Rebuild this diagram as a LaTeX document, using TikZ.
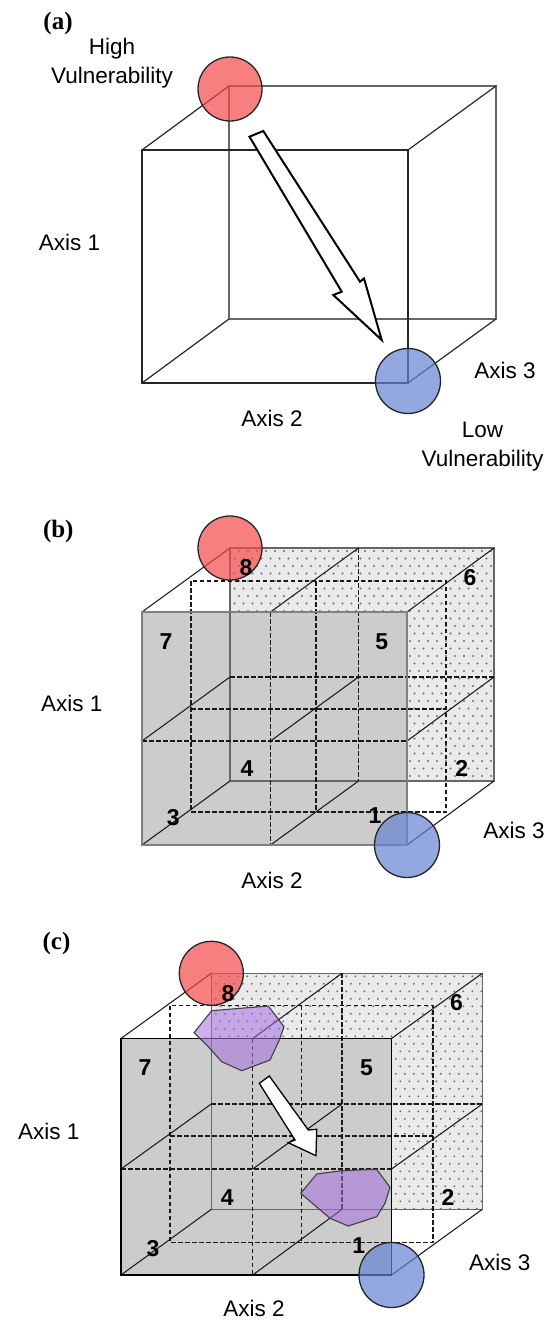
\documentclass[tikz,border=0pt]{standalone}
\usepackage{fontspec}
\setmainfont{Liberation Sans}
\newfontfamily\panelfont{Liberation Serif}
\usetikzlibrary{calc}
\definecolor{redc}{RGB}{245,74,74}
\definecolor{bluec}{RGB}{102,131,211}
\definecolor{purc}{RGB}{165,110,225}
\definecolor{facegray}{RGB}{204,204,204}
\definecolor{dotbg}{RGB}{234,234,234}
\definecolor{dotc}{RGB}{110,110,110}
\newcommand\defplane[8]{%
  \foreach \n/\x in {L/#3,M/#4,R/#5}{%
    \foreach \m/\y in {T/#6,H/#7,B/#8}{%
      \coordinate (#1#2\n\m) at (\x,\y);}}}
\newcommand\drawgridcube[2]{%
  \fill[dotbg] (#1BLT) rectangle (#1BRB);
  \begin{scope}
    \clip (#1BLT) rectangle (#1BRB);
    \foreach \j in {0,...,32}{\foreach \i in {0,...,30}{%
      \pgfmathsetmacro\dx{\i*9+mod(\j,2)*4.5}%
      \fill[dotc] ($(#1BLT)+(\dx,\j*7.5+3)$) circle (1.05);}}
  \end{scope}
  \fill[facegray] (#1FLT) rectangle (#1FRB);
  \draw[backedge] (#1BLT) -- (#1BRT) -- (#1BRB) -- (#1BLB) -- cycle;
  \foreach \P in {F,B,M}{%
    \draw[gridline] (#1\P MT) -- (#1\P MB);
    \draw[gridline] (#1\P LH) -- (#1\P RH);}
  \draw[gridline] (#1MLT) rectangle (#1MRB);
  \foreach \c in {L,M,R}{\foreach \r in {T,H,B}{%
    \draw[depth] (#1F\c\r) -- (#1B\c\r);}}
  \draw[#2] (#1FLT) rectangle (#1FRB);
}
\begin{document}
\begin{tikzpicture}[x=1pt,y=-1pt,
  frontedge/.style={draw=black!85, line width=1.2pt},
  backedge/.style={draw=black!60, line width=1.1pt},
  gridline/.style={draw=black!90, dash pattern=on 4.5pt off 2.5pt, line width=1.1pt},
  depth/.style={draw=black!90, line width=1.05pt},
  frontb/.style={draw=black!50, line width=1.1pt},
  frontc/.style={draw=black, line width=1.6pt},
  hicirc/.style={circle, draw=black!85, line width=1.3pt, fill=redc, fill opacity=0.7, minimum size=64pt, inner sep=0pt},
  locirc/.style={circle, draw=black!85, line width=1.3pt, fill=bluec, fill opacity=0.7, minimum size=65pt, inner sep=0pt},
  blockarrow/.style={draw=black, fill=white, line width=2pt, line join=miter},
  smallarrow/.style={draw=black, fill=white, line width=1.3pt, line join=miter},
  blob/.style={draw=black!75, line width=1.1pt, fill=purc, fill opacity=0.55},
  axislbl/.style={font=\fontsize{22.5}{29}\selectfont, inner sep=0pt, align=center},
  numlbl/.style={font=\fontsize{23}{26}\selectfont\bfseries, inner sep=0pt},
  panellbl/.style={font=\panelfont\fontsize{25}{28}\selectfont\bfseries, inner sep=0pt}]
\useasboundingbox (0,0) rectangle (552,1321);
\fill[white] (0,0) rectangle (552,1321);

% ---------------- panel (a)
\coordinate (aFLT) at (142,150); \coordinate (aFRT) at (408,150);
\coordinate (aFLB) at (142,383); \coordinate (aFRB) at (408,383);
\coordinate (aBLT) at (229,86);  \coordinate (aBRT) at (496,86);
\coordinate (aBLB) at (229,319); \coordinate (aBRB) at (496,319);
\draw[backedge] (aBLT) -- (aBRT) -- (aBRB) -- (aBLB) -- cycle;
\draw[frontedge] (aFLT) -- (aBLT) (aFRT) -- (aBRT) (aFLB) -- (aBLB) (aFRB) -- (aBRB);
\draw[frontedge] (aFLT) rectangle (aFRB);
\draw[blockarrow] (249.5,136.7) -- (263.3,131) -- (360,281.7) -- (364,278.5)
   -- (381.7,340) -- (333.3,295) -- (341.7,291.7) -- cycle;
\node[hicirc] (hiA) at (230,89) {};
\node[locirc] (loA) at (408,381) {};
\node[panellbl] (pa) at (58,23) {(a)};
\node[axislbl] (hva) at (112,63.5) {High\\Vulnerability};
\node[axislbl] (ax1a) at (69.4,242.7) {Axis 1};
\node[axislbl] (ax3a) at (505,370.7) {Axis 3};
\node[axislbl] (ax2a) at (272,418) {Axis 2};
\node[axislbl] (lva) at (482.5,447) {Low\\Vulnerability};

% ---------------- panel (b)
\defplane{b}{F}{142}{270.5}{407}{612}{741}{845}
\defplane{b}{B}{230}{358.5}{494}{548}{677}{781}
\defplane{b}{M}{191}{316}{446}{581}{709}{812}
\drawgridcube{b}{frontb}
\node[hicirc] (hiB) at (bBLT) {};
\node[locirc] (loB) at (bFRB) {};
\node[panellbl] (pb) at (58.3,531.7) {(b)};
\node[numlbl] (b8) at (246,568) {8};
\node[numlbl] (b7) at (166,642) {7};
\node[numlbl] (b6) at (470,578) {6};
\node[numlbl] (b5) at (381.7,641.7) {5};
\node[numlbl] (b4) at (247,768.3) {4};
\node[numlbl] (b2) at (461.7,768.3) {2};
\node[numlbl] (b3) at (173.3,817.7) {3};
\node[numlbl] (b1) at (375,816) {1};
\node[axislbl] (ax1b) at (71.7,703.3) {Axis 1};
\node[axislbl] (ax3b) at (514,830) {Axis 3};
\node[axislbl] (ax2b) at (272,880) {Axis 2};

% ---------------- panel (c)
\defplane{c}{F}{121}{252.7}{391.5}{1038.5}{1169}{1275}
\defplane{c}{B}{211.3}{342}{482.3}{973.3}{1104}{1209.3}
\defplane{c}{M}{170}{301.4}{433}{1005.7}{1136}{1242.7}
\drawgridcube{c}{frontc}
\draw[blob] (194,1032.7) -- (211.7,1010.7) -- (268.3,1006) -- (284,1026.7) -- (279.3,1040)
   -- (270,1060) -- (241.7,1070.7) -- (221.7,1061.7) -- (206.7,1045) -- cycle;
\draw[blob] (300.7,1193.3) -- (316.7,1174) -- (341.7,1170.7) -- (376.7,1169.3) -- (390,1187.3)
   -- (385,1203.3) -- (376.7,1216.7) -- (348.3,1226) -- (330,1218.3) -- cycle;
\draw[smallarrow] (259.3,1083.3) -- (269.3,1076) -- (308.3,1130) -- (316.7,1129.3)
   -- (316,1155.7) -- (288.3,1142.7) -- (295,1140) -- cycle;
\node[hicirc] (hiC) at (cBLT) {};
\node[locirc] (loC) at (cFRB) {};
\node[panellbl] (pc) at (56.5,943.3) {(c)};
\node[numlbl] (c8) at (228,993.3) {8};
\node[numlbl] (c7) at (145,1067.7) {7};
\node[numlbl] (c6) at (456.5,1002.3) {6};
\node[numlbl] (c5) at (366.4,1067.7) {5};
\node[numlbl] (c4) at (227.2,1197.7) {4};
\node[numlbl] (c2) at (448,1197.7) {2};
\node[numlbl] (c3) at (153,1248.3) {3};
\node[numlbl] (c1) at (358.7,1246) {1};
\node[axislbl] (ax1c) at (48.8,1131.7) {Axis 1};
\node[axislbl] (ax3c) at (499.8,1262.7) {Axis 3};
\node[axislbl] (ax2c) at (254,1308.3) {Axis 2};
\end{tikzpicture}
\end{document}
